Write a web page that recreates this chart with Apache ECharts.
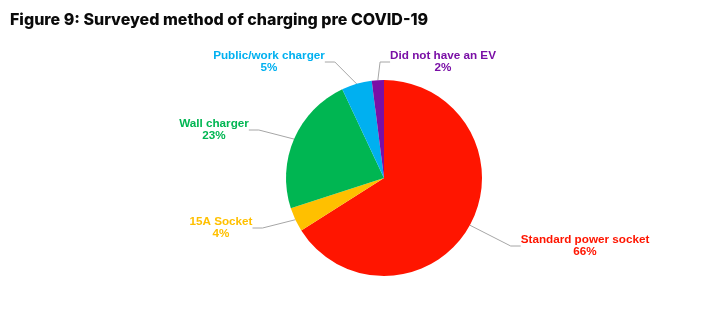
<!DOCTYPE html>
<html><head><meta charset="utf-8">
<script src="https://cdn.jsdelivr.net/npm/echarts@6/dist/echarts.min.js"></script>
<style>html,body{margin:0;padding:0;background:#fff}#c{width:726px;height:322px}</style>
</head><body><div id="c"></div>
<script>
const categories = ['Standard power socket', '15A Socket', 'Wall charger', 'Public/work charger', 'Did not have an EV'];
const values = [66, 4, 23, 5, 2];
const colors = ['#FF1500', '#FFC000', '#00B652', '#00B0F0', '#7A0FA6'];
const labelSpots = [[585, 246], [221, 228], [214, 130], [269, 62], [443, 62]];

const chart = echarts.init(document.getElementById('c'));
chart.setOption({
  animation: false,
  title: {
    text: 'Figure 9: Surveyed method of charging pre COVID-19',
    left: 5, top: 7,
    textStyle: { fontFamily: 'Inter', fontWeight: 800, fontSize: 16, color: '#0a0a0a' }
  },
  series: [{
    type: 'pie',
    center: [384, 178],
    radius: [0, 98],
    startAngle: 90,
    clockwise: true,
    data: categories.map((n, i) => ({ name: n, value: values[i], itemStyle: { color: colors[i] }, label: { color: colors[i] } })),
    label: {
      show: true,
      formatter: '{b}\n{c}%',
      fontFamily: 'Liberation Sans, Arial, sans-serif',
      fontWeight: 'bold',
      fontSize: 11.7,
      lineHeight: 12.5,
      align: 'center'
    },
    labelLine: { show: true, lineStyle: { color: '#A6A6A6', width: 1 }, length: 10, length2: 10 },
    labelLayout: function (p) {
      const s = labelSpots[p.dataIndex];
      return { x: s[0], y: s[1], align: 'center', verticalAlign: 'middle' };
    },
    emphasis: { disabled: true }
  }]
});
</script></body></html>
